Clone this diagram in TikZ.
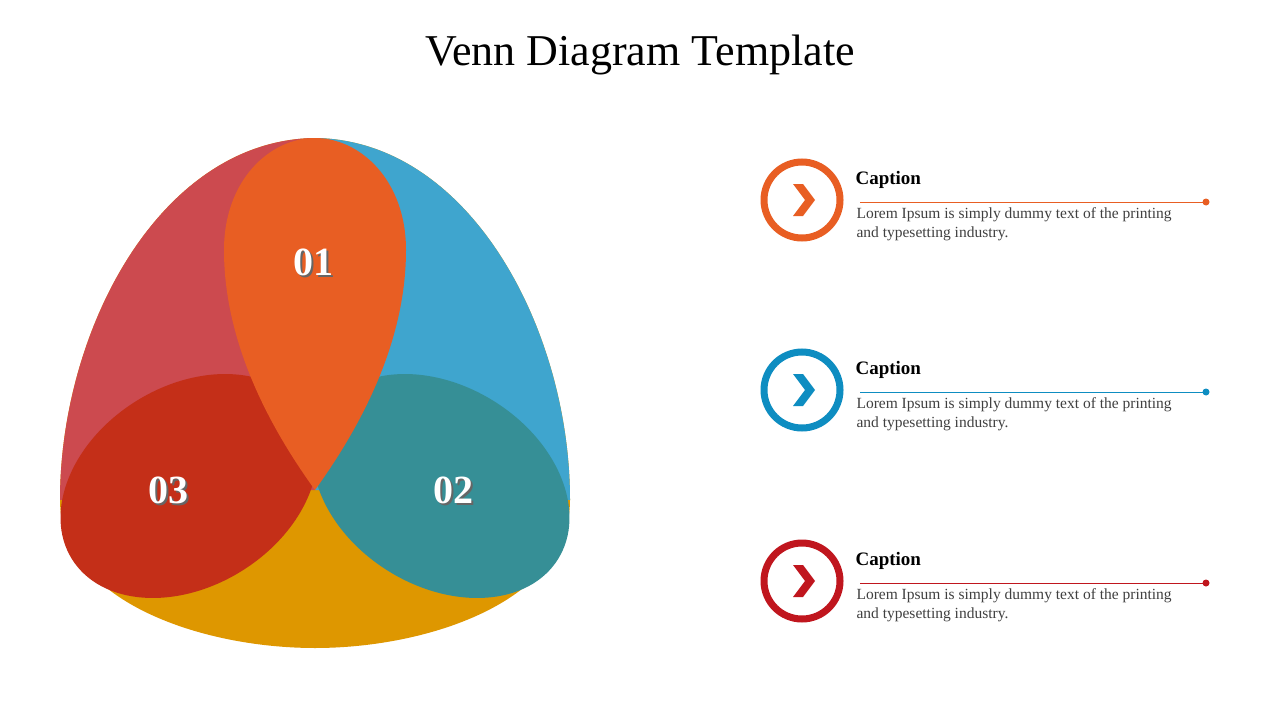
\documentclass[tikz,border=0pt]{standalone}
\usepackage{fontspec}
\setmainfont{DejaVu Serif}
\newfontfamily\lib{Liberation Serif}
\definecolor{cRedB}{HTML}{CC4A4F}
\definecolor{cBlueB}{HTML}{3FA5CE}
\definecolor{cOr}{HTML}{E85E23}
\definecolor{cDR}{HTML}{C42F18}
\definecolor{cTeal}{HTML}{368F96}
\definecolor{cYel}{HTML}{DE9700}
\definecolor{cIBlue}{HTML}{0E8DC1}
\definecolor{cIRed}{HTML}{C0161E}
\begin{document}
\begin{tikzpicture}[x=1pt,y=1pt,
  num/.style={text=white,font=\lib\bfseries\fontsize{40}{40}\selectfont},
  numsh/.style={text=black!60,font=\lib\bfseries\fontsize{40}{40}\selectfont},
  captxt/.style={anchor=west,font=\lib\bfseries\fontsize{19}{19}\selectfont},
  body/.style={anchor=north west,align=left,text=black!75,font=\lib\fontsize{15.5}{19}\selectfont}]
\useasboundingbox[fill=white] (0,0) rectangle (1280,-720);
\node[font=\lib\fontsize{44}{44}\selectfont] (title) at (640,-55) {Venn Diagram Template};
% blob
\fill[cYel] (315,-138) .. controls (160,-140) and (60,-330) .. (60,-500) .. controls (60,-600) and (200,-648) .. (315,-648) .. controls (430,-648) and (570,-600) .. (570,-500) .. controls (570,-330) and (470,-140) .. (315,-138) -- cycle;
\fill[cRedB] (315,-138) .. controls (160,-140) and (60,-330) .. (60,-500) -- (315,-490) -- cycle;
\fill[cBlueB] (315,-138) .. controls (470,-140) and (570,-330) .. (570,-500) -- (315,-490) -- cycle;
\fill[cDR,rotate around={32:(189,-486)}] (189,-486) ellipse [x radius=138,y radius=100];
\fill[cTeal,rotate around={-32:(441,-486)}] (441,-486) ellipse [x radius=138,y radius=100];
\fill[cOr] (315,-490) .. controls (250,-400) and (224,-320) .. (224,-250) .. controls (224,-180) and (270,-138) .. (315,-138) .. controls (360,-138) and (406,-180) .. (406,-250) .. controls (406,-320) and (380,-400) .. (315,-490) -- cycle;
\foreach \t/\x/\y in {01/313/-262,03/168/-490,02/453/-490}{
  \node[numsh] at (\x+2,\y-2) {\t};
  \node[num] (n\t) at (\x,\y) {\t};
}
% items
\foreach \c/\y/\i in {cOr/200/a,cIBlue/390/b,cIRed/581/c}{
  \draw[\c,line width=7] (802,-\y) circle (38);
  \fill[\c] (793,-\y+16) -- (803,-\y+16) -- (815,-\y) -- (803,-\y-16) -- (793,-\y-16) -- (805,-\y) -- cycle;
  \node[captxt] (cap\i) at (852,-\y+20) {Caption};
  \draw[\c,line width=1] (860,-\y-2) -- (1206,-\y-2);
  \fill[\c] (1206,-\y-2) circle (3.5);
  \node[body] (b\i) at (853,-\y-4) {Lorem Ipsum is simply dummy text of the printing\\and typesetting industry.};
}
\end{tikzpicture}
\end{document}
